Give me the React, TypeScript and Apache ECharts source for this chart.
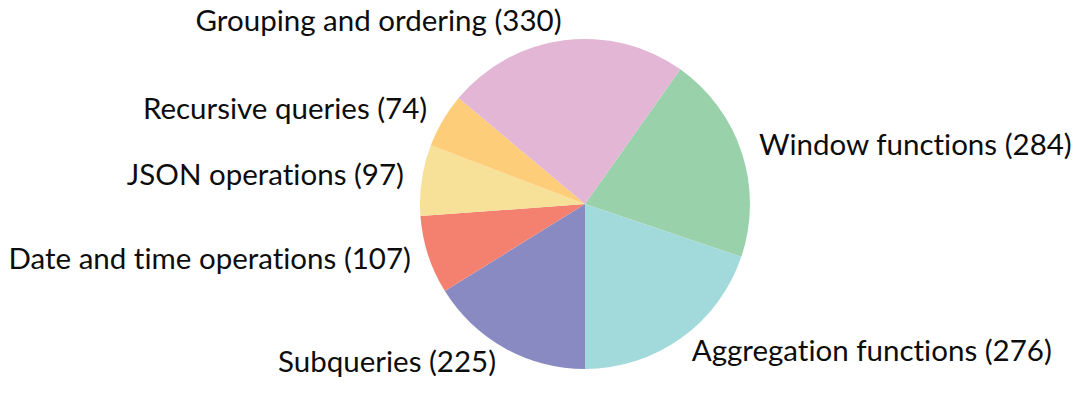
import React, { useEffect, useRef } from "react";
import * as echarts from "echarts";

const categories = [
  "Window functions",
  "Aggregation functions",
  "Subqueries",
  "Date and time operations",
  "JSON operations",
  "Recursive queries",
  "Grouping and ordering",
];
const values = [284, 276, 225, 107, 97, 74, 330];
const colors = ["#98d1aa", "#a2d9da", "#8a8ac2", "#f4816f", "#f7e198", "#fdcd7a", "#e2b6d4"];

export default function App() {
  const ref = useRef<HTMLDivElement>(null);
  useEffect(() => {
    if (!ref.current) return;
    const chart = echarts.init(ref.current, null, { renderer: "svg" });
    const total = values.reduce((a, b) => a + b, 0);
    // Subqueries boundary sits at 6 o'clock; window functions start accordingly
    const startFrac = (values[0] + values[1]) / total;
    const startAngle = 90 - (180 - startFrac * 360);
    chart.setOption({
      animation: false,
      series: [
        {
          type: "pie",
          center: [585, 204],
          radius: [0, 165],
          startAngle,
          clockwise: true,
          avoidLabelOverlap: false,
          data: categories.map((name, i) => ({
            name,
            value: values[i],
            itemStyle: { color: colors[i] },
          })),
          label: {
            show: true,
            position: "outside",
            formatter: "{t|{b} ({c})}",
            rich: {
              t: {
                fontFamily: "Lato",
                fontSize: 29.5,
                color: "#0d0d0d",
                lineHeight: 30,
                padding: [0, 0, 7, 0],
              },
            },
            fontFamily: "Lato",
            fontSize: 29.5,
            color: "#0d0d0d",
            distanceToLabelLine: 0,
          },
          labelLine: { show: false, length: 18, length2: 0 },
          itemStyle: { borderWidth: 0 },
        },
      ],
    });
    return () => chart.dispose();
  }, []);
  return (
    <>
      <style>{"svg text { font-variant-ligatures: none; font-feature-settings: 'liga' 0, 'clig' 0; }"}</style>
      <div
        ref={ref}
        style={{ position: "fixed", left: 0, top: 0, width: 1080, height: 396, background: "#fff" }}
      />
    </>
  );
}
